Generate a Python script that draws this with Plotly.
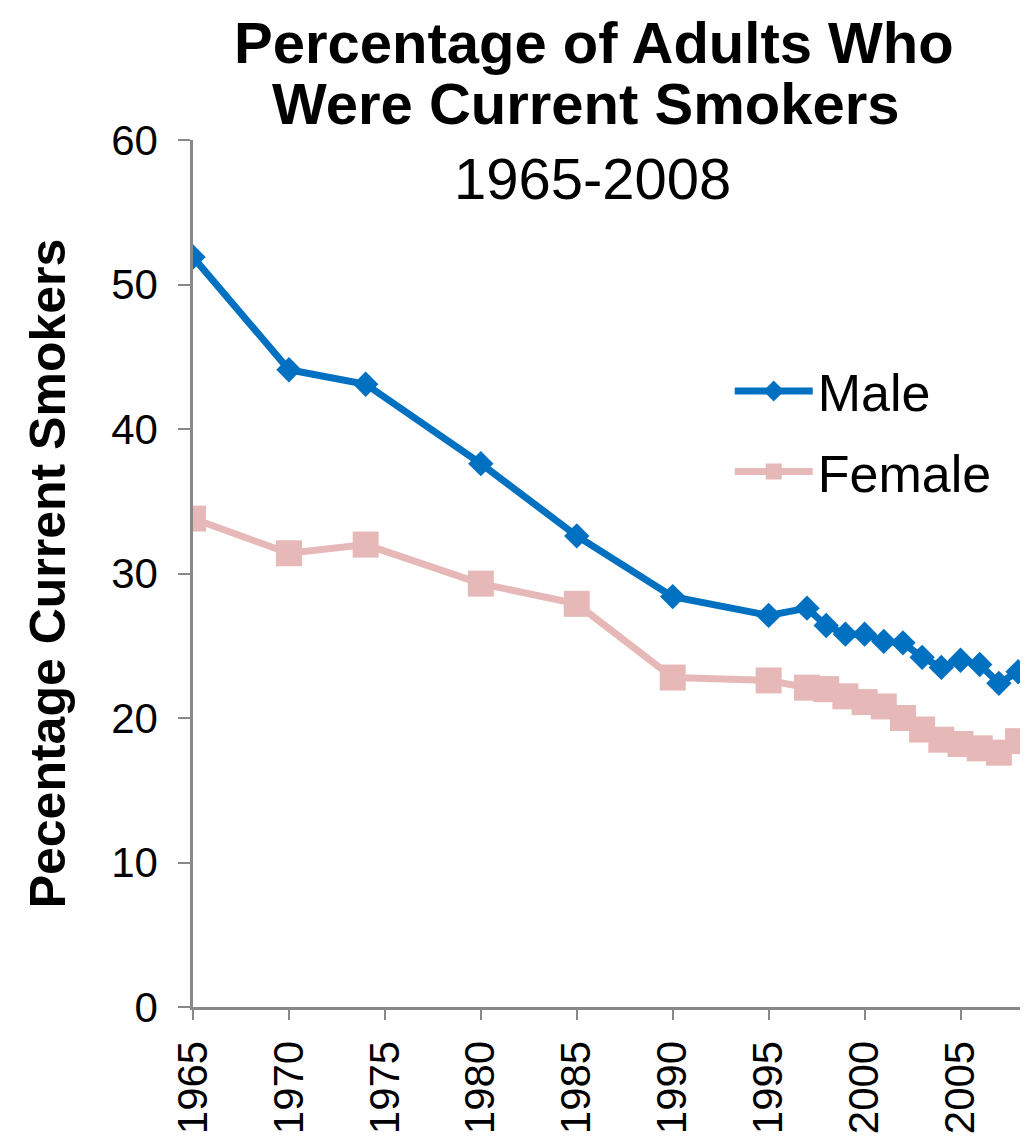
import plotly.graph_objects as go

# Survey years and smoking prevalence (%) by sex
years = [1965, 1970, 1974, 1980, 1985, 1990, 1995, 1997, 1998, 1999, 2000,
         2001, 2002, 2003, 2004, 2005, 2006, 2007, 2008]
male = [51.9, 44.1, 43.1, 37.6, 32.6, 28.4, 27.1, 27.6, 26.4, 25.8, 25.8,
        25.3, 25.2, 24.2, 23.5, 24.0, 23.7, 22.4, 23.2]
female = [33.8, 31.4, 32.0, 29.3, 27.9, 22.8, 22.6, 22.1, 22.0, 21.5, 21.1,
          20.8, 20.0, 19.2, 18.5, 18.2, 17.9, 17.6, 18.4]

x_ticks = [1965, 1970, 1975, 1980, 1985, 1990, 1995, 2000, 2005]
y_ticks = [0, 10, 20, 30, 40, 50, 60]

FONT = "Liberation Sans, Arial, sans-serif"

fig = go.Figure()
fig.add_trace(go.Scatter(
    x=years, y=male, name="Male", legendgroup="male", mode="lines+markers",
    line=dict(color="#0070C0", width=7),
    marker=dict(symbol="diamond", size=19.5, color="#0070C0"),
))
fig.add_trace(go.Scatter(
    x=years, y=female, name="Female", legendgroup="female", mode="lines+markers",
    line=dict(color="#E6B9B8", width=7),
    marker=dict(symbol="square", size=26, color="#E6B9B8"),
))

fig.update_layout(
    width=1033, height=1139,
    margin=dict(l=193, r=13, t=140, b=132),
    paper_bgcolor="white", plot_bgcolor="white",
    font=dict(family=FONT, color="black"),
    showlegend=True,
    legend=dict(
        x=0.649, y=0.757, xanchor="left", yanchor="top",
        font=dict(size=52, family=FONT), bgcolor="rgba(0,0,0,0)",
        itemwidth=78, tracegroupgap=10,
    ),
    xaxis=dict(
        range=[1965, 2008.1], tickmode="array", tickvals=x_ticks,
        ticktext=[str(t) for t in x_ticks], tickangle=-90,
        tickfont=dict(size=42, family=FONT), ticklabelstandoff=4,
        showline=True, linecolor="#888888", linewidth=3,
        ticks="outside", ticklen=10, tickwidth=2, tickcolor="#888888",
        showgrid=False, zeroline=False, automargin=False,
    ),
    yaxis=dict(
        range=[0, 60], tickmode="array", tickvals=y_ticks,
        tickfont=dict(size=42, family=FONT), ticklabelstandoff=12,
        showline=True, linecolor="#888888", linewidth=2.5,
        ticks="outside", ticklen=12, tickwidth=2, tickcolor="#888888",
        showgrid=False, zeroline=False, automargin=False,
        title=dict(text="<b>Pecentage Current Smokers</b>",
                   font=dict(size=50, family=FONT), standoff=30),
    ),
)

# Chart title (two bold lines plus the year range)
title_lines = [
    ("<b>Percentage of Adults Who</b>", 0.485, 98),
    ("<b>Were Current Smokers</b>", 0.475, 37),
    ("1965-2008", 0.483, -38),
]
for text, xpos, shift in title_lines:
    fig.add_annotation(
        text=text, xref="paper", yref="paper",
        x=xpos, y=1.0, yanchor="middle", yshift=shift, showarrow=False,
        font=dict(size=58, family=FONT, color="black"),
    )

fig.write_html("out.html")
